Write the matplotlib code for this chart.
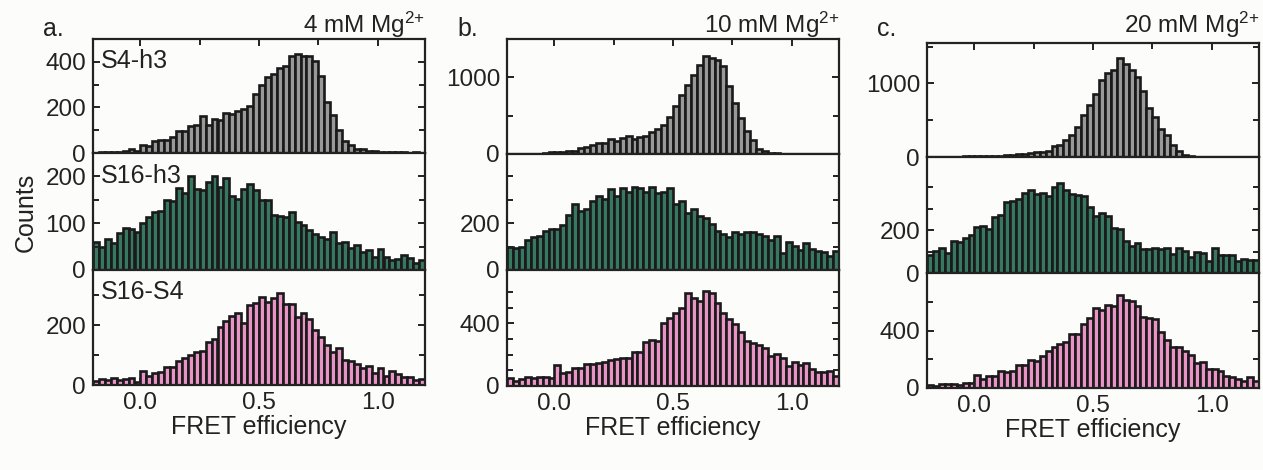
"""
FRET efficiency histograms at three Mg2+ concentrations
"""
import numpy as np
import matplotlib.pyplot as plt
from matplotlib.ticker import FixedLocator

plt.rcParams['font.family'] = ['Liberation Sans', 'DejaVu Sans']
plt.rcParams['mathtext.fontset'] = 'custom'
plt.rcParams['mathtext.rm'] = 'Liberation Sans'
plt.rcParams['mathtext.default'] = 'regular'

# histogram bins: -0.2 .. 1.2, width 0.025
bin_width = 0.025
bin_left = np.arange(56) * bin_width - 0.2

# 4 mM Mg2+
a_s4h3 = [2, 3, 3, 4, 5, 7, 18, 10, 36, 32, 51, 55, 58, 70, 95, 95, 119, 124, 164, 124,
          150, 143, 177, 172, 185, 192, 207, 257, 298, 335, 346, 374, 381, 425, 436, 425,
          425, 404, 337, 222, 167, 99, 51, 33, 17, 16, 10, 8, 5, 4, 3, 4, 3, 2, 3, 2]
a_s16h3 = [59, 49, 66, 57, 80, 89, 87, 81, 100, 114, 123, 126, 149, 147, 176, 164, 201, 174,
           172, 189, 201, 177, 196, 158, 151, 174, 184, 170, 149, 149, 118, 116, 113, 125,
           102, 97, 86, 77, 71, 66, 82, 57, 59, 46, 53, 39, 43, 28, 45, 28, 22, 24, 33, 26, 14, 22]
a_s16s4 = [13, 21, 17, 22, 17, 19, 23, 10, 46, 30, 39, 42, 59, 59, 82, 92, 101, 112, 115, 144,
           155, 193, 215, 231, 240, 207, 268, 274, 294, 279, 291, 309, 270, 270, 226, 240,
           220, 184, 160, 135, 112, 123, 84, 80, 70, 56, 64, 41, 57, 30, 48, 37, 26, 26, 17, 19]

# 10 mM Mg2+
b_s4h3 = [2, 2, 3, 4, 5, 6, 8, 30, 30, 22, 43, 43, 74, 96, 113, 139, 148, 191, 174, 209,
          239, 191, 217, 235, 291, 322, 378, 487, 626, 770, 904, 1035, 1161, 1278, 1248, 1226,
          1148, 887, 670, 465, 304, 183, 65, 35, 15, 8, 5, 4, 3, 3, 2, 2, 2, 1, 1, 1]
b_s16h3 = [97, 93, 100, 129, 140, 146, 166, 173, 174, 190, 233, 283, 251, 261, 294, 314, 301,
           346, 317, 350, 333, 354, 351, 333, 354, 329, 333, 351, 280, 293, 244, 260, 230, 223,
           197, 166, 154, 140, 161, 154, 164, 164, 154, 143, 126, 143, 73, 120, 104, 87, 114,
           89, 79, 77, 60, 83]
b_s16s4 = [49, 32, 43, 55, 49, 60, 60, 51, 134, 85, 87, 117, 117, 138, 138, 145, 155, 166, 170,
           181, 177, 219, 219, 279, 294, 287, 400, 436, 468, 496, 591, 560, 543, 609, 596, 528,
           464, 426, 396, 343, 287, 277, 262, 245, 194, 202, 181, 128, 155, 134, 149, 106, 91,
           89, 96, 64]

# 20 mM Mg2+
c_s4h3 = [2, 3, 3, 4, 5, 6, 8, 8, 10, 12, 13, 15, 20, 22, 25, 40, 45, 54, 63, 63, 77, 144, 158,
          225, 302, 414, 572, 707, 856, 1045, 1144, 1180, 1351, 1270, 1180, 1081, 901, 671, 540,
          378, 302, 167, 77, 32, 12, 6, 4, 3, 3, 2, 2, 2, 1, 1, 1, 1]
c_s16h3 = [82, 103, 115, 93, 148, 144, 161, 177, 213, 221, 205, 262, 270, 331, 333, 344, 372,
           385, 369, 374, 357, 402, 418, 385, 369, 361, 359, 308, 266, 279, 267, 208, 205, 151,
           128, 139, 111, 111, 115, 111, 115, 90, 118, 102, 74, 98, 93, 56, 115, 85, 85, 85, 57,
           66, 61, 62]
c_s16s4 = [19, 16, 30, 30, 26, 23, 37, 35, 93, 65, 81, 81, 116, 114, 121, 163, 163, 198, 186,
           226, 256, 286, 309, 321, 379, 377, 442, 484, 558, 540, 577, 570, 644, 612, 605, 570,
           493, 486, 477, 388, 333, 286, 286, 256, 233, 174, 179, 133, 135, 121, 86, 77, 65, 51,
           77, 47]

constructs = ["S4-h3", "S16-h3", "S16-S4"]
bar_colors = ["#999999", "#367862", "#ea93c6"]
panel_letters = ["a.", "b.", "c."]
conditions = [r"4 mM Mg$^{2{+}}$", r"10 mM Mg$^{2{+}}$", r"20 mM Mg$^{2{+}}$"]
counts = [[a_s4h3, a_s16h3, a_s16s4],
          [b_s4h3, b_s16h3, b_s16s4],
          [c_s4h3, c_s16h3, c_s16s4]]

# y limits, labelled ticks, unlabelled ticks for each sub-panel
ylims = [[500, 250, 385], [1500, 495, 740], [1550, 540, 800]]
yticks_major = [[[0, 200, 400], [0, 100, 200], [0, 200]],
                [[0, 1000], [0, 200], [0, 400]],
                [[0, 1000], [0, 200], [0, 400]]]
yticks_minor = [[[100, 300], [50, 150], [100, 300]],
                [[500], [100, 300, 400], [100, 200, 300, 500, 600]],
                [[500, 1500], [100, 300, 400], [200, 600]]]

W, H = 1263, 470
col_x = [(93, 425), (507, 839), (927, 1259)]
row_y = [(39, 153, 270, 385), (39, 154, 270, 386), (43, 157, 273, 388)]
ink = "#222222"

fig = plt.figure(figsize=(W / 100, H / 100), dpi=100, facecolor="#fcfcfb")

for c in range(3):
    x0, x1 = col_x[c]
    for r in range(3):
        top, bot = row_y[c][r], row_y[c][r + 1]
        ax = fig.add_axes([x0 / W, 1 - bot / H, (x1 - x0) / W, (bot - top) / H])
        ax.set_facecolor("#fcfcfb")
        ax.bar(bin_left, counts[c][r], width=bin_width, align="edge",
               color=bar_colors[r], edgecolor="#1a1a1a", linewidth=1.9)
        ax.set_xlim(-0.2, 1.2)
        ax.set_ylim(0, ylims[c][r])
        ax.yaxis.set_major_locator(FixedLocator(yticks_major[c][r]))
        ax.yaxis.set_minor_locator(FixedLocator(yticks_minor[c][r]))
        ax.xaxis.set_major_locator(FixedLocator([0.0, 0.5, 1.0]))
        ax.xaxis.set_minor_locator(FixedLocator([0.25, 0.75]))
        ax.tick_params(which="both", direction="in", width=1.4, colors=ink,
                       labelsize=17.5, left=True, right=True,
                       top=(r == 0), bottom=(r == 2), labelbottom=(r == 2))
        ax.tick_params(which="major", length=5, pad=5)
        ax.tick_params(which="minor", length=4)
        for s in ax.spines.values():
            s.set_linewidth(1.6)
            s.set_color(ink)
        if r == 2:
            ax.set_xticklabels(["0.0", "0.5", "1.0"])
            ax.set_xlabel("FRET efficiency", fontsize=18, labelpad=1, color=ink)
        if c == 0:
            ax.text(0.025, 0.91, constructs[r], transform=ax.transAxes,
                    fontsize=18, ha="left", va="top", color=ink)

    fig.text((x0 - 50) / W, 1 - 29 / H, panel_letters[c], fontsize=18,
             ha="left", va="center", color=ink)
    fig.text(x1 / W, 1 - 25 / H, conditions[c], fontsize=17.5,
             ha="right", va="center", color=ink)

fig.text(26 / W, 1 - 212 / H, "Counts", rotation=90, fontsize=18,
         ha="center", va="center", color=ink)

fig.savefig("out.png", dpi=100, facecolor=fig.get_facecolor())
